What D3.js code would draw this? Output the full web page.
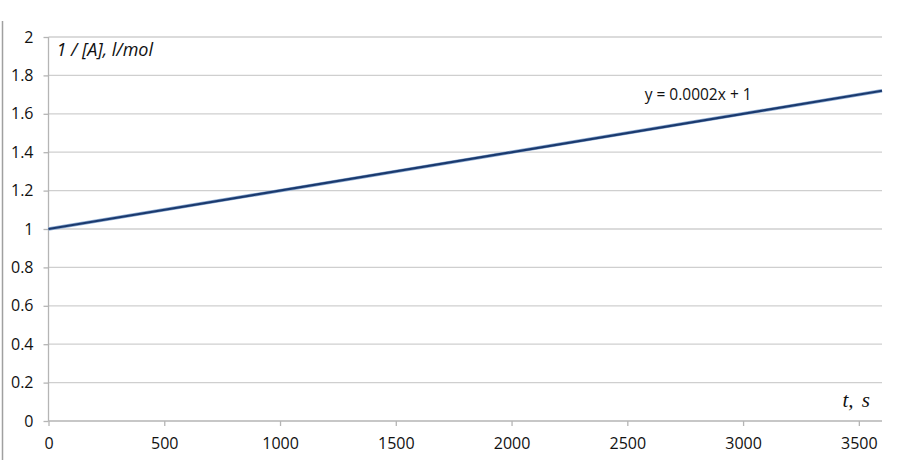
<!DOCTYPE html>
<html>
<head>
<meta charset="utf-8">
<script src="https://cdn.jsdelivr.net/npm/d3@7"></script>
<style>
  body { margin: 0; background: #fff; }
  svg { display: block; }
</style>
</head>
<body>
<svg width="900" height="460"></svg>
<script>
// data
const xTicks = [0, 500, 1000, 1500, 2000, 2500, 3000, 3500];
const yTicks = [0, 0.2, 0.4, 0.6, 0.8, 1, 1.2, 1.4, 1.6, 1.8, 2];
const lineX = [0, 3600];
const lineY = [1, 1.72];
const trendLabel = "y = 0.0002x + 1";
const yTitle = "1 / [A], l/mol";
const xTitle = "t, s";

const svg = d3.select("svg");
const plotLeft = 48.5, plotRight = 882, plotTop = 37, plotBottom = 421;

const x = d3.scaleLinear().domain([0, 3600]).range([plotLeft, plotRight]);
const y = d3.scaleLinear().domain([0, 2]).range([plotBottom, plotTop]);

// outer left border
svg.append("line")
  .attr("x1", 2.5).attr("x2", 2.5).attr("y1", 21).attr("y2", 460)
  .attr("stroke", "#a0a0a0").attr("stroke-width", 1.5);

// horizontal grid
svg.append("g")
  .selectAll("line")
  .data(yTicks.filter(d => d > 0))
  .enter().append("line")
  .attr("x1", plotLeft).attr("x2", plotRight)
  .attr("y1", d => y(d)).attr("y2", d => y(d))
  .attr("stroke", "#cfcfcf").attr("stroke-width", 1.3);

// y axis
const yAxis = svg.append("g")
  .attr("transform", `translate(${plotLeft},0)`)
  .call(d3.axisLeft(y).tickValues(yTicks).tickSize(5).tickPadding(10)
    .tickFormat(d => d3.format("")(+d.toFixed(1))));
yAxis.select(".domain").attr("stroke", "#b5b5b5").attr("stroke-width", 1.3)
  .attr("d", `M0,${plotTop}V${plotBottom}`);
yAxis.selectAll(".tick line").attr("stroke", "#b5b5b5").attr("stroke-width", 1.3);

// x axis
const xAxis = svg.append("g")
  .attr("transform", `translate(0,${plotBottom})`)
  .call(d3.axisBottom(x).tickValues(xTicks).tickSize(5).tickPadding(12)
    .tickFormat(d3.format("d")));
xAxis.select(".domain").attr("stroke", "#b5b5b5").attr("stroke-width", 1.3)
  .attr("d", `M${plotLeft},0H${plotRight}`);
xAxis.selectAll(".tick line").attr("stroke", "#b5b5b5").attr("stroke-width", 1.3);

svg.selectAll(".tick text")
  .attr("font-family", "'Open Sans', 'Noto Sans', sans-serif")
  .attr("font-size", 16)
  .attr("fill", "#111");

// trend line
const pts = lineX.map((v, i) => [v, lineY[i]]);
const line = d3.line().x(d => x(d[0])).y(d => y(d[1]));
svg.append("path").datum(pts)
  .attr("d", line).attr("fill", "none")
  .attr("stroke", "#8aa8d0").attr("stroke-width", 3.5);
svg.append("path").datum(pts)
  .attr("d", line).attr("fill", "none")
  .attr("stroke", "#1b3a6e").attr("stroke-width", 2.2);

// labels
svg.append("text")
  .attr("x", x(2575)).attr("y", y(1.672))
  .attr("font-family", "'Open Sans', sans-serif").attr("font-size", 15.5).attr("fill", "#111")
  .text(trendLabel);

svg.append("text")
  .attr("x", plotLeft + 8).attr("y", y(1.9))
  .attr("font-family", "'Open Sans', sans-serif").attr("font-size", 18)
  .attr("font-style", "italic").attr("fill", "#111")
  .text(yTitle);

svg.append("text")
  .attr("x", plotRight - 12).attr("y", y(0.073))
  .attr("text-anchor", "end")
  .attr("font-family", "'Liberation Serif', serif").attr("font-size", 21)
  .attr("font-style", "italic").attr("fill", "#111")
  .attr("word-spacing", 3)
  .text(xTitle);
</script>
</body>
</html>
